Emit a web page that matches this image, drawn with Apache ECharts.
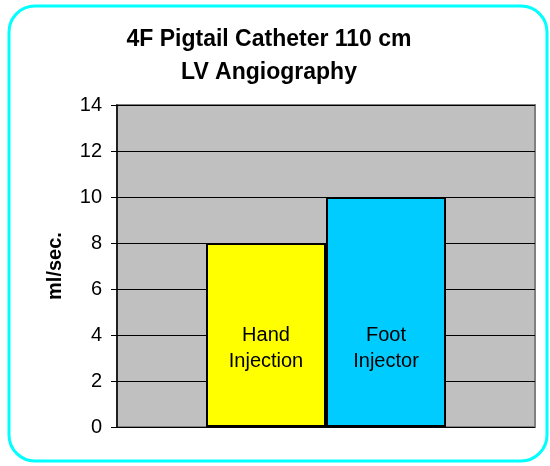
<!DOCTYPE html>
<html>
<head>
<meta charset="utf-8">
<script src="https://cdn.jsdelivr.net/npm/echarts@6/dist/echarts.min.js"></script>
<style>
html,body{margin:0;padding:0;background:#fff;}
#chart{width:550px;height:466px;}
</style>
</head>
<body>
<div id="chart"></div>
<script>
// data
const categories = ['']
const seriesNames = ['Hand\nInjection', 'Foot\nInjector']
const seriesValues = [[8], [10]]
const seriesColors = ['#FFFF00', '#00CCFF']
const yTicks = { min: 0, max: 14, step: 2 }

const chart = echarts.init(document.getElementById('chart'))

const series = seriesNames.map((name, i) => {
    return {
        name: name,
        type: 'bar',
        data: seriesValues[i],
        barWidth: 120,
        barGap: 0,
        itemStyle: {
            color: seriesColors[i],
            borderColor: '#000',
            borderWidth: 2
        },
        label: {
            show: true,
            position: 'insideBottom',
            distance: 53,
            formatter: name,
            color: '#000',
            fontFamily: 'Arial, Liberation Sans',
            fontSize: 20,
            lineHeight: 26
        }
    }
})

chart.setOption({
    backgroundColor: '#fff',
    animation: false,
    graphic: [{
        type: 'rect',
        shape: { x: 9, y: 6, width: 538, height: 455, r: 26 },
        style: { fill: 'none', stroke: '#00FFFF', lineWidth: 3 },
        z: -1
    }],
    title: {
        text: '4F Pigtail Catheter 110 cm\nLV Angiography',
        left: 264,
        top: 18,
        textAlign: 'center',
        textStyle: {
            fontFamily: 'Arial, Liberation Sans',
            fontSize: 23,
            fontWeight: 'bold',
            lineHeight: 33,
            color: '#000'
        }
    },
    grid: {
        left: 117,
        right: 15,
        top: 105,
        bottom: 39,
        show: true,
        backgroundColor: '#C0C0C0',
        borderColor: '#808080',
        borderWidth: 2
    },
    xAxis: {
        type: 'category',
        data: categories,
        axisLine: { show: false },
        axisTick: { show: false },
        axisLabel: { show: false }
    },
    yAxis: {
        type: 'value',
        min: yTicks.min,
        max: yTicks.max,
        interval: yTicks.step,
        name: 'ml/sec.',
        nameLocation: 'middle',
        nameGap: 52,
        nameRotate: 90,
        nameTextStyle: {
            fontFamily: 'Arial, Liberation Sans',
            fontSize: 20,
            fontWeight: 'bold',
            color: '#000'
        },
        axisLine: { show: true, lineStyle: { color: '#000', width: 1.5 } },
        axisTick: { show: true, inside: false, length: 6, lineStyle: { color: '#000' } },
        axisLabel: {
            margin: 15,
            fontFamily: 'Arial, Liberation Sans',
            fontSize: 20,
            color: '#000'
        },
        splitLine: { show: true, lineStyle: { color: '#000', width: 1 } }
    },
    series: series
})
</script>
</body>
</html>
